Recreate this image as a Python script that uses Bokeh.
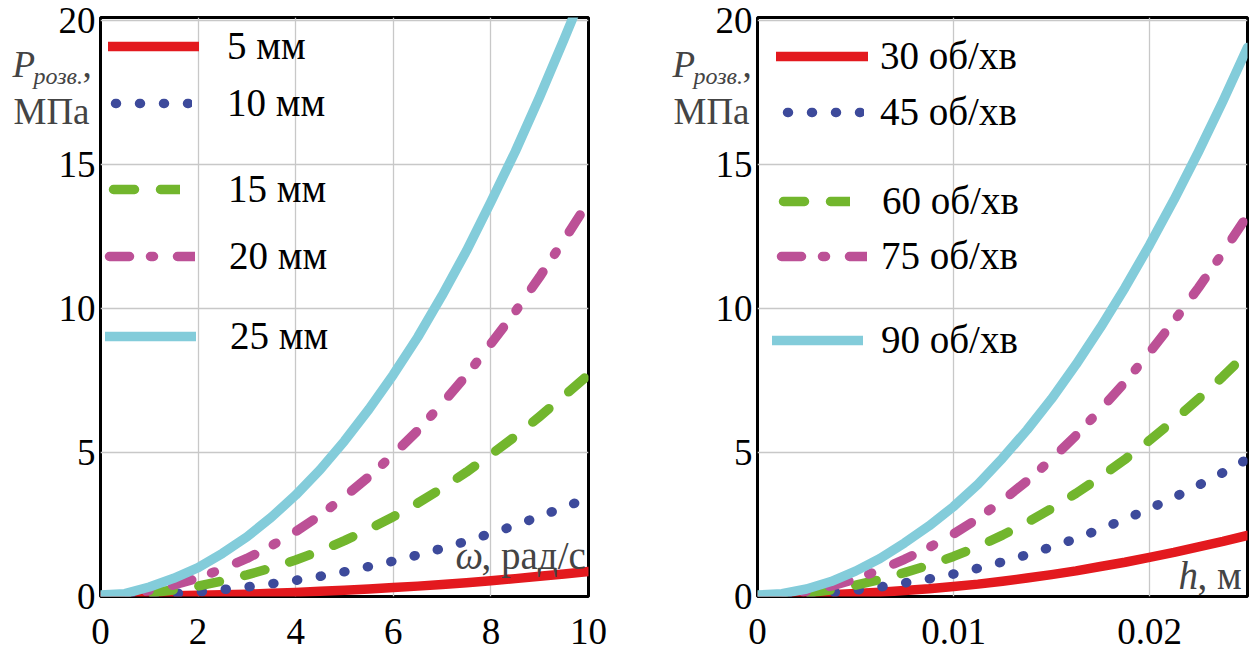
from bokeh.plotting import figure
from bokeh.layouts import row
from bokeh.models import Legend, LegendItem, Label, FixedTicker, Range1d, GridBox
from bokeh.embed import file_html
from bokeh.resources import INLINE

# ---------------- data ----------------
omega = [0, 0.5, 1, 1.5, 2, 2.5, 3, 3.5, 4, 4.5, 5, 5.5, 6, 6.5, 7, 7.5, 8, 8.5, 9, 9.5, 10]
p_5mm = [0.0, 0.0, 0.01, 0.03, 0.04, 0.06, 0.08, 0.11, 0.14, 0.18, 0.22, 0.26, 0.31, 0.36, 0.42,
         0.48, 0.55, 0.62, 0.70, 0.78, 0.87]
p_10mm = [0.0, 0.02, 0.05, 0.10, 0.16, 0.24, 0.33, 0.44, 0.56, 0.70, 0.86, 1.04, 1.23, 1.44, 1.67,
          1.92, 2.19, 2.47, 2.78, 3.10, 3.42]
p_15mm = [0.0, 0.04, 0.12, 0.23, 0.36, 0.54, 0.75, 0.99, 1.27, 1.58, 1.94, 2.34, 2.77, 3.24, 3.76,
          4.32, 4.93, 5.56, 6.25, 6.97, 7.70]
p_20mm = [0.0, 0.06, 0.21, 0.40, 0.64, 0.96, 1.32, 1.76, 2.25, 2.82, 3.46, 4.16, 4.93, 5.76, 6.69,
          7.68, 8.77, 9.89, 11.10, 12.38, 13.70]
p_25mm = [0.05, 0.10, 0.33, 0.63, 1.00, 1.50, 2.07, 2.75, 3.52, 4.40, 5.40, 6.50, 7.70, 9.00, 10.45,
          12.00, 13.70, 15.45, 17.35, 19.35, 21.40]
left_labels = ["5 мм", "10 мм", "15 мм", "20 мм", "25 мм"]

h_m = [0, 0.00125, 0.0025, 0.00375, 0.005, 0.00625, 0.0075, 0.00875, 0.01, 0.01125, 0.0125,
       0.01375, 0.015, 0.01625, 0.0175, 0.01875, 0.02, 0.02125, 0.0225, 0.02375, 0.025]
p_30 = [0.0, 0.01, 0.03, 0.06, 0.10, 0.15, 0.21, 0.27, 0.35, 0.43, 0.53, 0.64, 0.76, 0.89, 1.04,
        1.19, 1.36, 1.53, 1.72, 1.91, 2.12]
p_45 = [0.0, 0.03, 0.07, 0.13, 0.22, 0.33, 0.47, 0.61, 0.78, 0.98, 1.20, 1.45, 1.72, 2.01, 2.34,
        2.68, 3.05, 3.44, 3.86, 4.30, 4.77]
p_60 = [0.0, 0.04, 0.12, 0.23, 0.39, 0.59, 0.83, 1.09, 1.39, 1.73, 2.13, 2.57, 3.05, 3.58, 4.15,
        4.76, 5.42, 6.12, 6.86, 7.64, 8.47]
p_75 = [0.0, 0.07, 0.18, 0.36, 0.61, 0.92, 1.29, 1.70, 2.17, 2.71, 3.33, 4.01, 4.76, 5.59, 6.49,
        7.44, 8.47, 9.56, 10.72, 11.94, 13.23]
p_90 = [0.05, 0.10, 0.26, 0.52, 0.88, 1.32, 1.86, 2.45, 3.12, 3.90, 4.80, 5.78, 6.86, 8.05, 9.34,
        10.72, 12.20, 13.77, 15.44, 17.20, 19.06]
right_labels = ["30 об/хв", "45 об/хв", "60 об/хв", "75 об/хв", "90 об/хв"]

x_ticks_left = [0, 2, 4, 6, 8, 10]
x_ticks_right = [0, 0.01, 0.02]
y_ticks = [0, 5, 10, 15, 20]

# ---------------- styles ----------------
COLORS = ["#e3191e", "#3d4a9b", "#72b62d", "#bc5096", "#83ccda"]
DASH = ["solid", "1 23", "21 26", "20 21 3 24", "solid"]
DASH_OFFSET = [0, 19, 42, 63, 0]
LW = 9.5
SERIF = "Liberation Serif"
FRAME_BOTTOM = 596  # page y of the plot frames' bottom
PAGE_H = 652
BASE_FIX = 11.5     # label anchor correction (px)


def make_fig(x_end, width, left, right, xticks):
    p = figure(width=width, height=PAGE_H, x_range=Range1d(0, x_end), y_range=Range1d(0, 20.1),
               output_backend="svg", toolbar_location=None,
               min_border_left=left, min_border_right=right,
               min_border_top=17, min_border_bottom=PAGE_H - FRAME_BOTTOM)
    p.outline_line_color = "black"
    p.outline_line_width = 3
    p.outline_line_alpha = 1
    for ax in (p.xaxis[0], p.yaxis[0]):
        ax.axis_line_color = None
        ax.major_tick_line_color = None
        ax.minor_tick_line_color = None
        ax.major_tick_in = 0
        ax.major_tick_out = 0
        ax.minor_tick_in = 0
        ax.minor_tick_out = 0
        ax.major_label_text_font = SERIF
        ax.major_label_text_font_size = "37px"
        ax.major_label_text_color = "black"
    p.xaxis.major_label_standoff = 22
    p.yaxis.major_label_standoff = 5
    p.xaxis.ticker = FixedTicker(ticks=xticks)
    p.xgrid.ticker = FixedTicker(ticks=xticks)
    p.yaxis.ticker = FixedTicker(ticks=y_ticks)
    p.ygrid.ticker = FixedTicker(ticks=y_ticks)
    p.grid.grid_line_color = "#c8c8c8"
    p.grid.grid_line_width = 1.3
    return p


def add_curves(p, xs, series):
    rs = []
    for ys, c, d, o in zip(series, COLORS, DASH, DASH_OFFSET):
        rs.append(p.line(xs, ys, line_color=c, line_width=LW, line_cap="round",
                         line_join="round", line_dash=d, line_dash_offset=o))
    return rs


def add_legends(p, labels, renderers, frame_left, specs):
    # specs: (sample left page x, sample y page, sample width, text start page x)
    gh = 40
    for lab, r, (x1, ly, gw, tx) in zip(labels, renderers, specs):
        ly = ly - 4
        leg = Legend(items=[LegendItem(label=lab, renderers=[r])],
                     location=(int(round(x1 - frame_left)), int(round(FRAME_BOTTOM - ly - gh / 2))),
                     padding=0, spacing=0, margin=0,
                     glyph_width=int(round(gw)), glyph_height=gh, label_height=20,
                     label_standoff=int(round(tx - (x1 + gw))),
                     label_text_font=SERIF, label_text_font_size="39px",
                     label_text_color="black",
                     background_fill_alpha=0, border_line_alpha=0)
        p.add_layout(leg, "center")


def text_label(target, x, y_from_bottom, text, size, italic=False):
    target.add_layout(Label(x=x, y=y_from_bottom + BASE_FIX, x_units="screen", y_units="screen",
                            text=text, text_font=SERIF, text_font_size=size,
                            text_font_style="italic" if italic else "normal",
                            text_baseline="alphabetic"))


# ---------------- left panel ----------------
p1 = make_fig(10, 620, 100, 32, x_ticks_left)
r1 = add_curves(p1, omega, [p_5mm, p_10mm, p_15mm, p_20mm, p_25mm])
add_legends(p1, left_labels, r1, 100, [
    (108, 52, 91, 227),
    (110, 109, 82, 227),
    (108, 195, 72, 228),
    (104, 262, 91, 229),
    (105, 342, 91, 230),
])
text_label(p1, 355, FRAME_BOTTOM - 566, "ω", "39px", italic=True)
text_label(p1, 381, FRAME_BOTTOM - 566, ", рад/с", "39px")

# ---------------- right panel ----------------
p2 = make_fig(0.025, 630, 137, 3, x_ticks_right)
p2.xaxis.major_label_overrides = {0: "0", 0.01: "0.01", 0.02: "0.02"}
r2 = add_curves(p2, h_m, [p_30, p_45, p_60, p_75, p_90])
add_legends(p2, right_labels, r2, 757, [
    (776, 61.7, 92, 880),
    (781.7, 118.3, 82, 879.3),
    (778, 206.7, 72, 881.7),
    (775.7, 262.3, 91, 880.7),
    (771.7, 345.7, 91, 880.7),
])
text_label(p2, 421, FRAME_BOTTOM - 586, "h", "39px", italic=True)
text_label(p2, 440, FRAME_BOTTOM - 586, ", м", "39px")

# ---------------- y-axis titles (transparent overlay, page coordinates) ----------------
ov = figure(width=1250, height=PAGE_H, x_range=Range1d(0, 1250), y_range=Range1d(0, PAGE_H),
            output_backend="svg", toolbar_location=None, min_border=0,
            x_axis_location=None, y_axis_location=None,
            outline_line_color=None, background_fill_color=None, border_fill_color=None)
ov.grid.visible = False
for x0 in (12, 672):
    text_label(ov, x0, PAGE_H - 75, "P", "37px", italic=True)
    text_label(ov, x0 + 21, PAGE_H - 87, "розв.", "24px", italic=True)
    text_label(ov, x0 + 70, PAGE_H - 75, ",", "37px")
    text_label(ov, x0 + 1, PAGE_H - 122, "МПа", "37px")

layout = GridBox(children=[(row(p1, p2), 0, 0), (ov, 0, 0)])
open("out.html", "w").write(file_html(layout, INLINE))
